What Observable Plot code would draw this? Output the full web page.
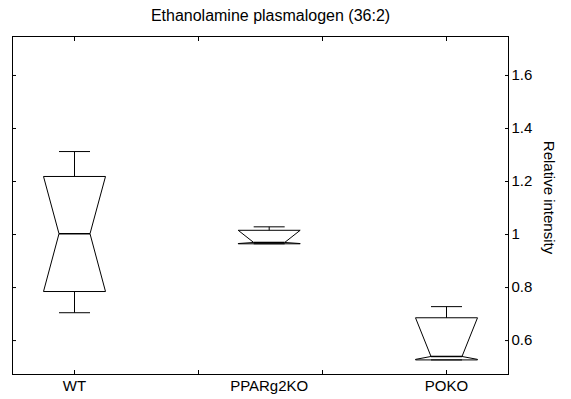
<!DOCTYPE html>
<html>
<head>
<meta charset="utf-8">
<script src="https://cdn.jsdelivr.net/npm/d3@7"></script>
<script src="https://cdn.jsdelivr.net/npm/@observablehq/plot@0.6"></script>
<style>
  body { margin: 0; background: #fff; }
  svg { display: block; }
</style>
</head>
<body>
<div id="chart"></div>
<script>
// Notched box plot statistics, one entry per genotype
const title = "Ethanolamine plasmalogen (36:2)";
const yLabel = "Relative intensity";
const groups = ["WT", "PPARg2KO", "POKO"];
const positions = [1, 2.57, 4];
const whiskerHigh = [1.313, 1.029, 0.728];
const upperQuartile = [1.219, 1.016, 0.686];
const notchHigh = [1.219, 1.016, 0.686];
const median = [1.003, 0.970, 0.540];
const notchLow = [0.785, 0.966, 0.529];
const lowerQuartile = [0.785, 0.965, 0.527];
const whiskerLow = [0.705, 0.965, 0.527];

// Axis ticks
const yTicks = [0.6, 0.8, 1, 1.2, 1.4, 1.6];
const yTickLabels = ["0.6", "0.8", "1", "1.2", "1.4", "1.6"];
const xTicks = [1, 2, 3, 4];

const boxHalf = 0.25;    // half box width (x units)
const notchHalf = 0.125; // half width at the median / whisker caps

// Box outline with notches, traced as a closed polyline per group
const outline = groups.flatMap((g, i) => {
  const x = positions[i];
  return [
    [x - boxHalf, lowerQuartile[i]],
    [x - boxHalf, notchLow[i]],
    [x - notchHalf, median[i]],
    [x - boxHalf, notchHigh[i]],
    [x - boxHalf, upperQuartile[i]],
    [x + boxHalf, upperQuartile[i]],
    [x + boxHalf, notchHigh[i]],
    [x + notchHalf, median[i]],
    [x + boxHalf, notchLow[i]],
    [x + boxHalf, lowerQuartile[i]],
    [x - boxHalf, lowerQuartile[i]]
  ].map(([px, py]) => ({group: g, px, py}));
});

const idx = groups.map((_, i) => i);
const ink = "black";

const chart = Plot.plot({
  width: 571,
  height: 399,
  marginLeft: 12,
  marginRight: 63,
  marginTop: 36,
  marginBottom: 25,
  style: {
    fontFamily: "'Liberation Sans', Arial, Helvetica, sans-serif",
    fontSize: "15px",
    color: "black",
    background: "white"
  },
  x: {type: "linear", domain: [0.5, 4.5]},
  y: {type: "linear", domain: [0.472, 1.747]},
  marks: [
    Plot.frame({stroke: ink, strokeWidth: 1}),

    // inward tick marks on all four sides
    Plot.axisY(yTicks, {anchor: "right", tickSize: 4, dx: -4, tickFormat: () => "", label: null}),
    Plot.axisY(yTicks, {anchor: "left", tickSize: 4, dx: 4, tickFormat: () => "", label: null}),
    Plot.axisX(xTicks, {anchor: "bottom", tickSize: 4, dy: -4, tickFormat: () => "", label: null}),
    Plot.axisX(xTicks, {anchor: "top", tickSize: 4, dy: 4, tickFormat: () => "", label: null}),

    // right-hand tick labels
    Plot.axisY(yTicks, {
      anchor: "right", tickSize: 0, tickPadding: 3, label: null,
      tickFormat: (d) => yTickLabels[yTicks.indexOf(d)], fontSize: 15
    }),

    // whiskers and caps
    Plot.link(idx, {x1: (i) => positions[i], x2: (i) => positions[i], y1: (i) => upperQuartile[i], y2: (i) => whiskerHigh[i], stroke: ink}),
    Plot.link(idx, {x1: (i) => positions[i], x2: (i) => positions[i], y1: (i) => lowerQuartile[i], y2: (i) => whiskerLow[i], stroke: ink}),
    Plot.link(idx, {x1: (i) => positions[i] - notchHalf, x2: (i) => positions[i] + notchHalf, y1: (i) => whiskerHigh[i], y2: (i) => whiskerHigh[i], stroke: ink}),
    Plot.link(idx, {x1: (i) => positions[i] - notchHalf, x2: (i) => positions[i] + notchHalf, y1: (i) => whiskerLow[i], y2: (i) => whiskerLow[i], stroke: ink}),

    // notched boxes
    Plot.line(outline, {x: "px", y: "py", z: "group", stroke: ink, strokeWidth: 1, strokeLinejoin: "miter", strokeLinecap: "butt"}),

    // medians
    Plot.link(idx, {x1: (i) => positions[i] - notchHalf, x2: (i) => positions[i] + notchHalf, y1: (i) => median[i], y2: (i) => median[i], stroke: ink, strokeWidth: 1.5}),

    // group labels under the axis
    Plot.text(groups, {x: (d, i) => positions[i], text: (d) => d, frameAnchor: "bottom", dy: 11.75, lineAnchor: "middle", fontSize: 15}),

    // title
    Plot.text([title], {text: (d) => d, frameAnchor: "top", dx: 10, dy: -20.6, lineAnchor: "middle", fontSize: 16}),

    // y label on the right, reading downwards
    Plot.text([yLabel], {text: (d) => d, frameAnchor: "right", dx: 40, dy: -8, rotate: 90, textAnchor: "middle", lineAnchor: "middle", fontSize: 15})
  ]
});

document.getElementById("chart").appendChild(chart);
</script>
</body>
</html>
